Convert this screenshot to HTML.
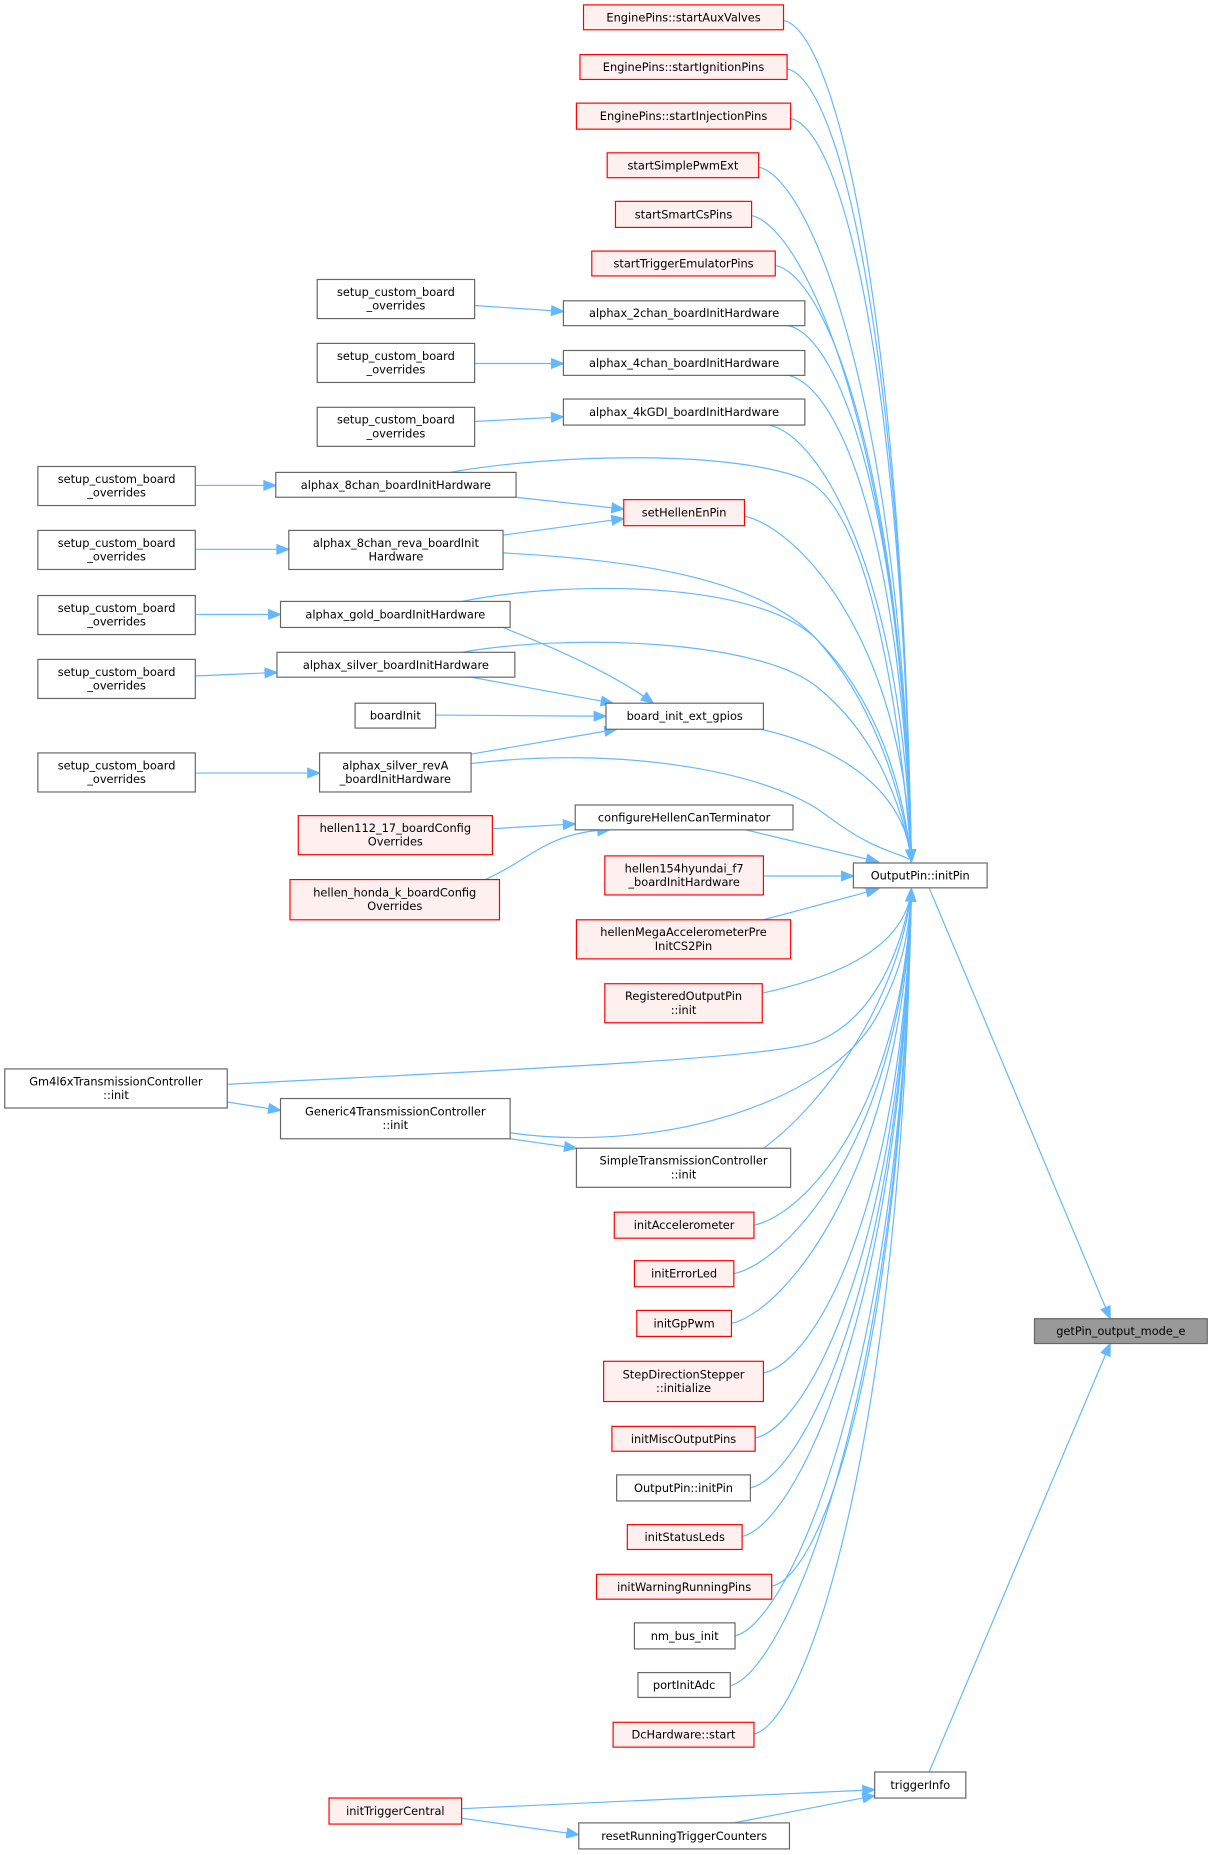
<!DOCTYPE html>
<html><head><meta charset="utf-8"><style>
html,body{margin:0;padding:0;background:#fff;}
svg{display:block;}
text{font-family:"DejaVu Sans","Liberation Sans",sans-serif;font-size:9.6px;fill:#000;}
</style></head><body>
<svg id="g" width="1212" height="1855" viewBox="0 0 1024 1567" xmlns="http://www.w3.org/2000/svg">
<rect width="1024" height="1567" fill="#fff"/>
<g id="edges" fill="none" stroke="#63b8ff" stroke-width="1"></g>
<g id="arrows" fill="#63b8ff" stroke="#63b8ff"></g>
<g id="nodes"></g>
</svg>
<script>
var NS="http://www.w3.org/2000/svg";
var E=document.getElementById('edges'),A=document.getElementById('arrows'),N=document.getElementById('nodes');
function el(p,t,a){var e=document.createElementNS(NS,t);for(var k in a)e.setAttribute(k,a[k]);p.appendChild(e);return e;}
function node(x1,y1,x2,y2,lines,type){
  var fill='#fff',st='#666';
  if(type=='r'){fill='#fff0f0';st='#f00';}
  if(type=='g'){fill='#999';st='#666';}
  el(N,'rect',{x:x1,y:y1,width:x2-x1,height:y2-y1,fill:fill,stroke:st,'stroke-width':1});
  var cx=(x1+x2)/2,cy=(y1+y2)/2;
  if(lines.length==1){var t=el(N,'text',{x:cx,y:cy+3.4,'text-anchor':'middle'});t.textContent=lines[0];}
  else{for(var i=0;i<2;i++){var t=el(N,'text',{x:cx,y:cy-2.6+i*11.5,'text-anchor':'middle'});t.textContent=lines[i];}}
}
function arrow(px,py,ex,ey){
  var dx=ex-px,dy=ey-py,l=Math.sqrt(dx*dx+dy*dy);dx/=l;dy/=l;
  var L=10,W=4;
  var bx=ex-dx*L,by=ey-dy*L;
  el(A,'polygon',{points:(ex)+','+(ey)+' '+(bx-dy*W)+','+(by+dx*W)+' '+(bx+dy*W)+','+(by-dx*W)});
}
function line(x1,y1,x2,y2){el(E,'path',{d:'M'+x1+','+y1+'L'+x2+','+y2});arrow(x1,y1,x2,y2);}
var TX=770,TY=728,BY=751;
function toTop(xr,ym){var d='M'+xr+','+ym+' C'+(xr+45)+','+(ym+10)+' '+(TX-8)+','+(ym+(TY-ym)*0.35)+' '+TX+','+(TY-2);
  el(E,'path',{d:d});arrow(TX-1,TY-20,TX,TY);}
function toBot(xr,ym){var d='M'+xr+','+ym+' C'+(xr+45)+','+(ym-10)+' '+(TX-8)+','+(ym-(ym-BY)*0.35)+' '+TX+','+(BY+2);
  el(E,'path',{d:d});arrow(TX-1,BY+20,TX,BY);}
toTop(662,17);toTop(665,58);toTop(668,100);toTop(641,141);toTop(635,182);toTop(655,224);
toTop(666,275);toTop(666,317);toTop(650,359);toTop(629,436);toTop(643,616);
el(E,'path',{d:'M380,399 C470,383 620,380 680,405 C735,430 760,600 770,726'});
el(E,'path',{d:'M425,467 C520,472 640,485 690,540 C735,590 760,660 770,726'});
el(E,'path',{d:'M390,508 C480,490 640,490 690,540 C740,590 762,660 770,726'});
el(E,'path',{d:'M390,551 C480,535 640,540 690,580 C740,620 762,680 770,726'});
el(E,'path',{d:'M398,645 C520,630 650,650 700,690 C740,720 760,720 768,726'});
line(630,701,742,728);line(645,740,721,740);line(645,777,742,751);
toBot(644,839);
el(E,'path',{d:'M192,916 C400,905 650,895 690,880 C740,860 762,800 770,753'});
el(E,'path',{d:'M431,957 C560,975 700,930 740,860 C762,820 768,790 770,753'});
el(E,'path',{d:'M645,970 C700,930 760,840 770,753'});
toBot(637,1035);toBot(620,1076);toBot(618,1118);toBot(645,1160);toBot(638,1215);toBot(634,1257);
toBot(627,1298);toBot(652,1340);toBot(621,1382);toBot(617,1424);toBot(637,1465);
line(401,258,476,263);line(401,307,476,307);line(401,356,476,352);
line(165,410,233,410);line(165,464,244,464);line(165,519,237,519);line(165,571,234,568);line(165,653,270,653);
line(436,420,527,430);line(425,452,527,438);
el(E,'path',{d:'M425,530 C470,548 520,570 552,594'});arrow(530,578,552,594);
line(398,572,518,594);line(368,604,512,605);line(398,637,521,616);
line(416,700,486,696);
el(E,'path',{d:'M410,743 C450,725 460,705 510,701'});arrow(495,703,515,701);
line(192,931,237,938);line(431,962,487,970);
line(390,1528,739,1512);line(390,1536,489,1550);line(620,1540,739,1517);
line(785,1497,938,1135);line(785,750,938,1114);
var R='r';
node(493,4,662,25,['EnginePins::startAuxValves'],R);
node(490,46,665,67,['EnginePins::startIgnitionPins'],R);
node(487,87,668,109,['EnginePins::startInjectionPins'],R);
node(513,129,641,150,['startSimplePwmExt'],R);
node(520,170,635,192,['startSmartCsPins'],R);
node(500,212,655,233,['startTriggerEmulatorPins'],R);
node(476,254,680,275,['alphax_2chan_boardInitHardware']);
node(476,296,680,317,['alphax_4chan_boardInitHardware']);
node(476,337,680,359,['alphax_4kGDI_boardInitHardware']);
var S=['setup_custom_board','_overrides'];
node(268,236,401,269,S);node(268,290,401,323,S);node(268,344,401,377,S);
node(32,394,165,427,S);node(32,448,165,481,S);node(32,503,165,536,S);node(32,557,165,590,S);node(32,636,165,669,S);
node(233,399,436,420,['alphax_8chan_boardInitHardware']);
node(527,422,629,444,['setHellenEnPin'],R);
node(244,448,425,481,['alphax_8chan_reva_boardInit','Hardware']);
node(237,508,431,530,['alphax_gold_boardInitHardware']);
node(234,551,435,572,['alphax_silver_boardInitHardware']);
node(300,594,368,615,['boardInit']);
node(512,594,645,616,['board_init_ext_gpios']);
node(270,636,398,669,['alphax_silver_revA','_boardInitHardware']);
node(486,680,670,701,['configureHellenCanTerminator']);
node(252,689,416,722,['hellen112_17_boardConfig','Overrides'],R);
node(245,743,422,777,['hellen_honda_k_boardConfig','Overrides'],R);
node(511,723,645,756,['hellen154hyundai_f7','_boardInitHardware'],R);
node(721,729,834,750,['OutputPin::initPin']);
node(487,777,668,810,['hellenMegaAccelerometerPre','InitCS2Pin'],R);
node(511,831,644,864,['RegisteredOutputPin','::init'],R);
node(4,903,192,936,['Gm4l6xTransmissionController','::init']);
node(237,928,431,962,['Generic4TransmissionController','::init']);
node(487,970,668,1003,['SimpleTransmissionController','::init']);
node(519,1024,637,1046,['initAccelerometer'],R);
node(536,1065,620,1087,['initErrorLed'],R);
node(538,1107,618,1129,['initGpPwm'],R);
node(510,1150,645,1184,['StepDirectionStepper','::initialize'],R);
node(517,1205,638,1226,['initMiscOutputPins'],R);
node(521,1246,634,1268,['OutputPin::initPin']);
node(530,1288,627,1309,['initStatusLeds'],R);
node(504,1330,652,1351,['initWarningRunningPins'],R);
node(536,1371,621,1393,['nm_bus_init']);
node(539,1413,617,1434,['portInitAdc']);
node(518,1455,637,1476,['DcHardware::start'],R);
node(874,1114,1020,1135,['getPin_output_mode_e'],'g');
node(739,1497,816,1519,['triggerInfo']);
node(278,1519,390,1541,['initTriggerCentral'],R);
node(489,1540,667,1562,['resetRunningTriggerCounters']);
</script>
</body></html>
